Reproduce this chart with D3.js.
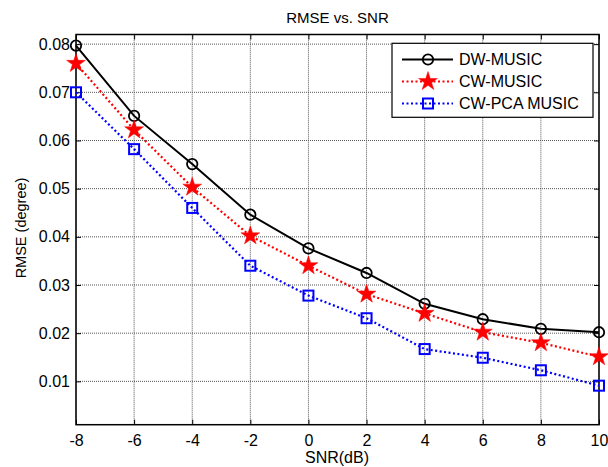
<!DOCTYPE html>
<html><head><meta charset="utf-8">
<script src="https://cdn.jsdelivr.net/npm/d3@7"></script>
<style>body{margin:0;background:#fff}svg{display:block}text{font-family:"Liberation Sans",Arial,sans-serif;fill:#000}</style>
</head><body>
<script>
const snr = [-8,-6,-4,-2,0,2,4,6,8,10];
const dwMusic = [0.0797,0.0651,0.0551,0.0446,0.0376,0.0325,0.0261,0.0229,0.0209,0.0202];
const cwMusic = [0.0760,0.0622,0.0503,0.0402,0.0340,0.0281,0.0241,0.0202,0.0180,0.0151];
const cwPcaMusic = [0.0700,0.0582,0.0460,0.0340,0.0278,0.0231,0.0167,0.0149,0.0123,0.0091];
const xTicks = [-8,-6,-4,-2,0,2,4,6,8,10];
const yTicks = [0.01,0.02,0.03,0.04,0.05,0.06,0.07,0.08];
const seriesNames = ["DW-MUSIC","CW-MUSIC","CW-PCA MUSIC"];

const W=608,H=467;
const svg=d3.select("body").append("svg").attr("width",W).attr("height",H);
const x=d3.scaleLinear().domain([-8,10]).range([76,599]);
const y=d3.scaleLinear().domain([0.001,0.082]).range([424.7,34.5]);
const [x0,x1]=x.range(), [y0,y1]=y.range();

// grid
const g=svg.append("g");
g.selectAll(".gx").data(xTicks).join("line").attr("x1",d=>x(d)).attr("x2",d=>x(d)).attr("y1",y0).attr("y2",y1)
 .attr("stroke","#555").attr("stroke-width",1).attr("stroke-dasharray","1,1");
g.selectAll(".gy").data(yTicks).join("line").attr("y1",d=>y(d)).attr("y2",d=>y(d)).attr("x1",x0).attr("x2",x1)
 .attr("stroke","#555").attr("stroke-width",1).attr("stroke-dasharray","1,1");

// axes
const ax=svg.append("g").attr("transform",`translate(0,${y0})`).call(d3.axisBottom(x).tickValues(xTicks).tickSizeInner(-5).tickSizeOuter(0).tickPadding(10).tickFormat(d=>String(d)));
const axT=svg.append("g").attr("transform",`translate(0,${y1})`).call(d3.axisTop(x).tickValues(xTicks).tickSizeInner(-5).tickSizeOuter(0).tickFormat(""));
const ay=svg.append("g").attr("transform",`translate(${x0},0)`).call(d3.axisLeft(y).tickValues(yTicks).tickSizeInner(-5).tickSizeOuter(0).tickPadding(6).tickFormat(d3.format(".2f")));
const ayR=svg.append("g").attr("transform",`translate(${x1},0)`).call(d3.axisRight(y).tickValues(yTicks).tickSizeInner(-5).tickSizeOuter(0).tickFormat(""));
[ax,axT,ay,ayR].forEach(a=>{a.select(".domain").remove();a.selectAll("line").attr("stroke","#000");a.selectAll("text").attr("font-size","16px").attr("font-family","Liberation Sans, Arial, sans-serif");});
svg.append("rect").attr("x",x0).attr("y",y1).attr("width",x1-x0).attr("height",y0-y1).attr("fill","none").attr("stroke","#000").attr("stroke-width",1.5);

// title and labels
svg.append("text").attr("x",337.5).attr("y",22.5).attr("text-anchor","middle").attr("font-size","15px").text("RMSE vs. SNR");
svg.append("text").attr("x",337).attr("y",463).attr("text-anchor","middle").attr("font-size","16px").text("SNR(dB)");
svg.append("text").attr("transform","translate(26,228) rotate(-90)").attr("text-anchor","middle").attr("font-size","14.5px").text("RMSE (degree)");

const star=d3.symbol().type(d3.symbolStar).size(110);
const series=[
 {name:seriesNames[0],vals:dwMusic,color:"#000",dash:null,marker:"circle"},
 {name:seriesNames[1],vals:cwMusic,color:"#ff0000",dash:"2,2.5",marker:"star"},
 {name:seriesNames[2],vals:cwPcaMusic,color:"#0000ff",dash:"2,2.5",marker:"square"}
];
function drawMarker(sel,m,color){
 if(m==="circle") sel.append("circle").attr("r",5.2).attr("fill","none").attr("stroke",color).attr("stroke-width",1.8);
 else if(m==="star") sel.append("path").attr("d",star).attr("fill",color).attr("stroke",color).attr("stroke-width",0.5);
 else sel.append("rect").attr("x",-5).attr("y",-5).attr("width",10).attr("height",10).attr("fill","none").attr("stroke",color).attr("stroke-width",2);
}
const line=d3.line().x((d,i)=>x(snr[i])).y(d=>y(d));
series.forEach(s=>{
 svg.append("path").attr("d",line(s.vals)).attr("fill","none").attr("stroke",s.color).attr("stroke-width",s.dash?2.2:2).attr("stroke-dasharray",s.dash);
 s.vals.forEach((v,i)=>{const m=svg.append("g").attr("transform",`translate(${x(snr[i])},${y(v)})`);drawMarker(m,s.marker,s.color);});
});

// legend
const lg=svg.append("g");
lg.append("rect").attr("x",392).attr("y",43.3).attr("width",201).attr("height",74).attr("fill","#fff").attr("stroke","#000").attr("stroke-width",1.2);
series.forEach((s,i)=>{
 const yy=59.5+i*22;
 lg.append("line").attr("x1",402).attr("x2",453).attr("y1",yy).attr("y2",yy).attr("stroke",s.color).attr("stroke-width",s.dash?2.2:2).attr("stroke-dasharray",s.dash);
 drawMarker(lg.append("g").attr("transform",`translate(428,${yy})`),s.marker,s.color);
 lg.append("text").attr("x",459).attr("y",yy+5.7).attr("font-size","16px").text(s.name);
});
</script>
</body></html>
